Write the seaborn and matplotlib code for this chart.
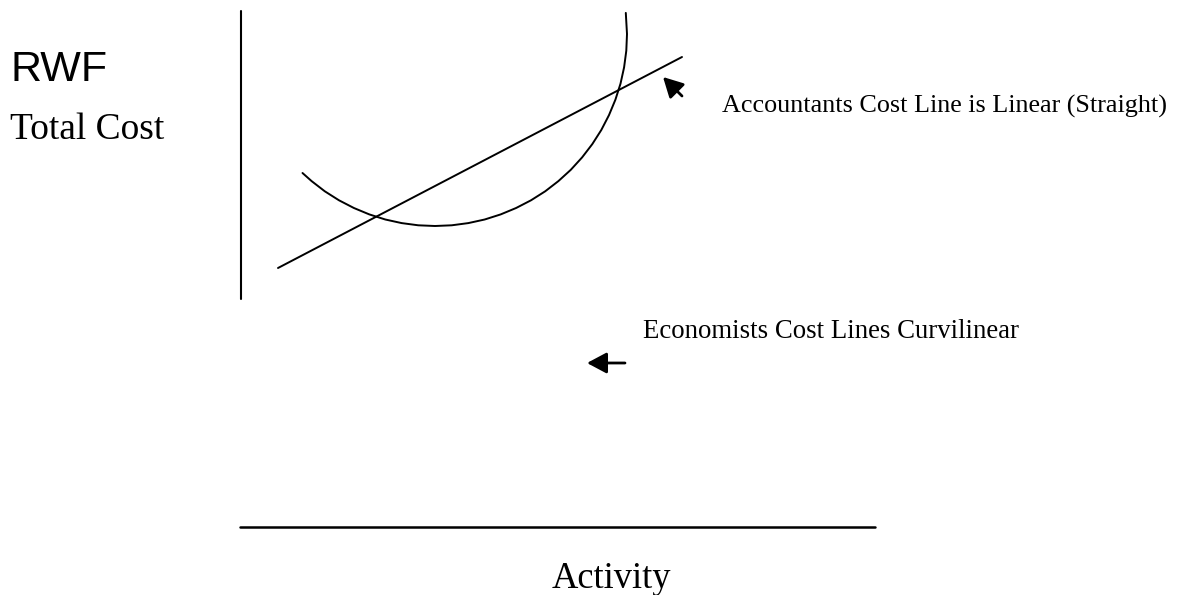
import matplotlib
matplotlib.use("Agg")
import matplotlib.pyplot as plt
import seaborn as sns
import pandas as pd

# ---- data (diagram units: activity to the right, cost upward) ----
curve_activity = [302.5, 311.6, 324.8, 339.0, 353.9, 369.3, 385.3, 401.7, 418.3, 435.0,
                  451.7, 468.3, 484.7, 500.7, 516.1, 531.0, 545.2, 558.4, 570.8, 582.1,
                  592.3, 601.3, 609.0, 615.4, 620.5, 624.1, 626.3, 627.0, 625.8]
curve_cost = [422.0, 413.9, 403.7, 394.7, 387.0, 380.6, 375.5, 371.9, 369.7, 369.0,
              369.7, 371.9, 375.5, 380.6, 387.0, 394.7, 403.7, 413.9, 425.2, 437.6,
              450.9, 465.0, 479.9, 495.3, 511.3, 527.7, 544.3, 561.0, 582.1]

linear_activity = [278, 682]
linear_cost = [327, 538]

cost_axis_activity = [240.5, 240.5]
cost_axis_cost = [296, 584]

activity_axis_activity = [240, 875]
activity_axis_cost = [68, 68]

labels = {
    "currency": "RWF",
    "ylabel": "Total Cost",
    "xlabel": "Activity",
    "accountants": "Accountants Cost Line is Linear (Straight)",
    "economists": "Economists Cost Lines Curvilinear",
}

sns.set_theme(style="white")
plt.rcParams["font.family"] = ["Liberation Serif", "DejaVu Serif"]

fig = plt.figure(figsize=(11.79, 5.95), dpi=100)
ax = fig.add_axes([0, 0, 1, 1])
ax.set_xlim(0, 1179)
ax.set_ylim(0, 595)
ax.axis("off")

curve_df = pd.DataFrame({"activity": curve_activity, "cost": curve_cost})
lin_df = pd.DataFrame({"activity": linear_activity, "cost": linear_cost})
vax_df = pd.DataFrame({"activity": cost_axis_activity, "cost": cost_axis_cost})
hax_df = pd.DataFrame({"activity": activity_axis_activity, "cost": activity_axis_cost})

kw = dict(x="activity", y="cost", sort=False, estimator=None, color="black", ax=ax, legend=False)
sns.lineplot(data=curve_df, linewidth=1.4, **kw)
sns.lineplot(data=lin_df, linewidth=1.4, **kw)
sns.lineplot(data=vax_df, linewidth=1.5, **kw)
sns.lineplot(data=hax_df, linewidth=1.8, **kw)

ax.text(11, 514, labels["currency"], fontsize=31, family=["Liberation Sans", "DejaVu Sans"],
        va="baseline", ha="left", color="black")
ax.text(10, 456, labels["ylabel"], fontsize=27, va="baseline", ha="left", color="black")
ax.text(552, 7, labels["xlabel"], fontsize=26.3, va="baseline", ha="left", color="black")
ax.text(722, 482, labels["accountants"], fontsize=18.8, va="baseline", ha="left", color="black")
ax.text(643, 257, labels["economists"], fontsize=19.3, va="baseline", ha="left", color="black")

arrow = dict(arrowstyle="-|>,head_length=0.6,head_width=0.32", mutation_scale=20,
             lw=2, color="black", shrinkA=0, shrinkB=0)
ax.annotate("", xy=(663, 518), xytext=(682, 499), arrowprops=arrow)
ax.annotate("", xy=(587, 232), xytext=(625, 232), arrowprops=arrow)

fig.savefig("out.png", dpi=100, facecolor="white")
